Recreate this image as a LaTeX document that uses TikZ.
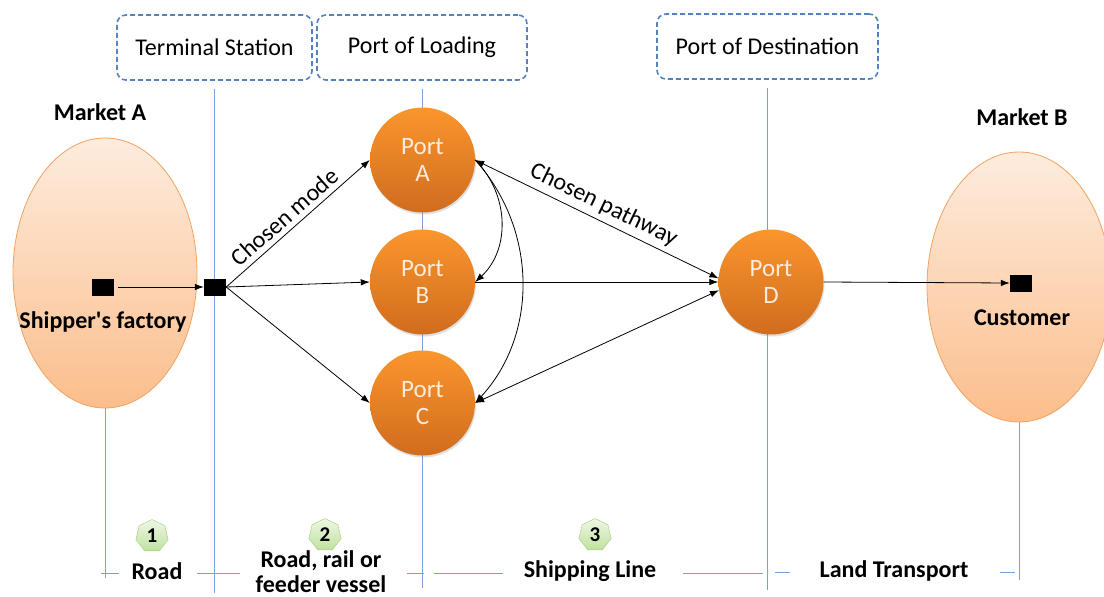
\documentclass[tikz,border=0pt]{standalone}
\usepackage{fontspec}
\setmainfont{Carlito}[Ligatures=TeXOff]
\usetikzlibrary{arrows.meta,shapes.geometric,shadows}
\definecolor{bl}{RGB}{84,130,190}
\definecolor{vlc}{RGB}{125,160,212}
\definecolor{portTop}{RGB}{250,150,45}
\definecolor{portBot}{RGB}{208,108,30}
\definecolor{portTxt}{RGB}{253,236,222}
\definecolor{ellTop}{RGB}{253,236,222}
\definecolor{ellBot}{RGB}{251,190,140}
\definecolor{ellEdge}{RGB}{242,162,95}
\definecolor{bdgTop}{RGB}{238,247,228}
\definecolor{bdgBot}{RGB}{192,226,160}
\definecolor{bdgEdge}{RGB}{165,200,125}
\tikzset{
  hdr/.style={draw=bl, dash pattern=on 5pt off 3pt, line width=1.6pt, rounded corners=9pt,
    minimum height=65pt, inner sep=0pt, font=\fontsize{24}{26}\selectfont},
  port/.style={circle, minimum size=105pt, inner sep=0pt, top color=portTop, bottom color=portBot,
    text=portTxt, align=center, font=\fontsize{25}{27}\selectfont,
    drop shadow={shadow xshift=1pt, shadow yshift=-2pt, opacity=0.25}},
  market/.style={ellipse, minimum width=184pt, minimum height=270pt, draw=ellEdge, line width=0.8pt,
    top color=ellTop, bottom color=ellBot, inner sep=0pt},
  sq/.style={rectangle, fill=black, minimum width=22pt, minimum height=17pt, inner sep=0pt},
  lbl/.style={font=\bfseries\fontsize{24}{25}\selectfont, align=center},
  badge/.style={regular polygon, regular polygon sides=7, minimum size=33pt, inner sep=0pt,
    draw=bdgEdge, top color=bdgTop, bottom color=bdgBot, font=\bfseries\fontsize{21}{22}\selectfont},
  arr/.style={-{Latex[length=9pt,width=6.5pt]}, line width=0.8pt},
  darr/.style={{Latex[length=9pt,width=6.5pt]}-{Latex[length=9pt,width=6.5pt]}, line width=0.8pt},
  vl/.style={draw=vlc, line width=1pt},
  mlabel/.style={font=\fontsize{24}{26}\selectfont, sloped, above, inner sep=5pt}
}
\begin{document}
\begin{tikzpicture}[x=1pt,y=-1pt]
\useasboundingbox[fill=white] (0,0) rectangle (1104,597);

% header boxes
\node[hdr, minimum width=195pt] (ts) at (214.5,47.5) {Terminal Station};
\node[hdr, minimum width=210pt] (pl) at (422,47.5) {Port of Loading};
\node[hdr, minimum width=221pt] (pd) at (767.5,46.5) {Port of Destination};

% vertical lines from headers
\draw[vl] ([yshift=-8pt]ts.south) -- (ts.south |- 0,593);
\draw[vl] ([yshift=-8pt]pl.south) -- (pl.south |- 0,588);
\draw[vl] ([yshift=-8pt]pd.south) -- (pd.south |- 0,590);

% markets
\node[market] (mA) at (105,273) {};
\node[market] (mB) at (1019,287) {};
\draw[vl] (mA.south) -- (mA.south |- 0,578);
\draw[vl] (mB.south) -- (mB.south |- 0,580);
\node[lbl] (mAl) at (100,112) {Market A};
\node[lbl] (mBl) at (1022,117) {Market B};

% ports
\node[port] (A) at (422.5,160) {Port\\A};
\node[port] (B) at (422.5,282) {Port\\B};
\node[port] (C) at (422.5,403) {Port\\C};
\node[port] (D) at (771,282) {Port\\D};

% squares
\node[sq] (f) at (103,287) {};
\node[sq] (t) at (215,287) {};
\node[sq] (cu) at (1021,283) {};
\node[lbl] (fl) at (103,322) {Shipper's factory};
\node[lbl] (cul) at (1022,318) {Customer};

% connectors
\draw[arr] ([xshift=4pt]f.east) -- (t.west);
\draw[arr] (t.east) -- node[mlabel, pos=0.47] {Chosen mode} (A.west);
\draw[arr] (t.east) -- (B.west);
\draw[arr] (t.east) -- (C.west);
\draw[darr] (A.east) -- node[mlabel] {Chosen pathway} (D.176);
\draw[arr] (B.east) -- (D.west);
\draw[darr] (C.east) -- (D.189);
\draw[arr] (A.east) .. controls (510,195) and (510,250) .. (B.east);
\draw[arr] (A.east) .. controls (538,230) and (538,335) .. (C.east);
\draw[arr] (D.east) -- (cu.west);

% bottom segments
\draw[vl] (101,573) -- (119,573);
\draw[vl] (197,573) -- (240,573);
\draw[vl] (407,573) -- (424,573);
\draw[vl] (434,573) -- (503,573);
\draw[vl] (683,573) -- (763,573);
\draw[vl] (775,572) -- (790,572);
\draw[vl] (1000,572) -- (1015,572);

% badges
\node[badge] (b1) at (152,536) {1};
\node[badge] (b2) at (325,535) {2};
\node[badge] (b3) at (595,535) {3};

% bottom labels
\node[lbl] (l1) at (157,571) {Road};
\node[lbl] (l2) at (321,572) {Road, rail or\\feeder vessel};
\node[lbl] (l3) at (590,571) {Shipping Line};
\node[lbl] (l4) at (894,571) {Land Transport};
\end{tikzpicture}
\end{document}
